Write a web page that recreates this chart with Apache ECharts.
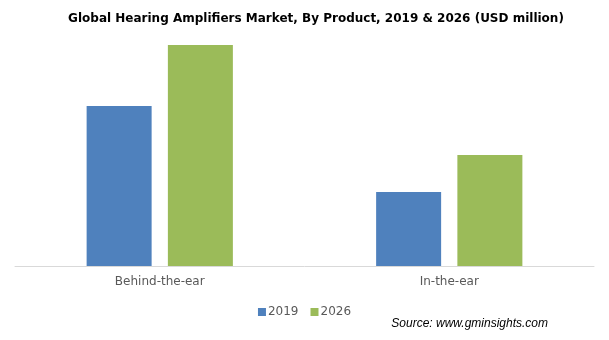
<!DOCTYPE html>
<html>
<head>
<meta charset="utf-8">
<script src="https://cdn.jsdelivr.net/npm/echarts@6/dist/echarts.min.js"></script>
<style>
  html, body { margin: 0; padding: 0; background: #fff; }
  #chart { width: 609px; height: 340px; }
</style>
</head>
<body>
<div id="chart"></div>
<script>
// data (USD million, estimated)
var categories = ['Behind-the-ear', 'In-the-ear'];
var seriesNames = ['2019', '2026'];
var values2019 = [80, 37];
var values2026 = [110.5, 55.5];

var myChart = echarts.init(document.getElementById('chart'));

var option = {
    title: {
        text: 'Global Hearing Amplifiers Market, By Product, 2019 & 2026 (USD million)',
        left: 311,
        textAlign: 'center',
        top: 8,
        textStyle: {
            fontFamily: 'DejaVu Sans',
            fontSize: 12,
            fontWeight: 'bold',
            color: '#000'
        }
    },
    legend: {
        data: seriesNames,
        left: 'center',
        top: 301,
        itemWidth: 8,
        itemHeight: 8,
        itemGap: 12,
        icon: 'rect',
        textStyle: {
            fontFamily: 'DejaVu Sans',
            fontSize: 12,
            color: '#595959',
            padding: [0, 0, 0, -3]
        }
    },
    graphic: [{
        type: 'text',
        right: 61,
        top: 318,
        style: {
            text: 'Source: www.gminsights.com',
            font: 'italic 12px "Liberation Sans", Arial, sans-serif',
            fill: '#000'
        }
    }],
    grid: {
        left: 15,
        right: 15,
        top: 45,
        bottom: 74
    },
    xAxis: {
        type: 'category',
        data: categories,
        axisTick: { show: false },
        axisLine: { lineStyle: { color: '#d9d9d9', width: 1 } },
        axisLabel: {
            margin: 10,
            fontFamily: 'DejaVu Sans',
            fontSize: 12,
            color: '#595959'
        }
    },
    yAxis: {
        type: 'value',
        min: 0,
        max: 110.5,
        show: false,
        splitLine: { show: false }
    },
    series: [
        {
            name: seriesNames[0],
            type: 'bar',
            data: values2019,
            barWidth: 65,
            barGap: '25%',
            itemStyle: { color: '#4f81bd' }
        },
        {
            name: seriesNames[1],
            type: 'bar',
            data: values2026,
            barWidth: 65,
            itemStyle: { color: '#9bbb59' }
        }
    ]
};

myChart.setOption(option);
</script>
</body>
</html>
